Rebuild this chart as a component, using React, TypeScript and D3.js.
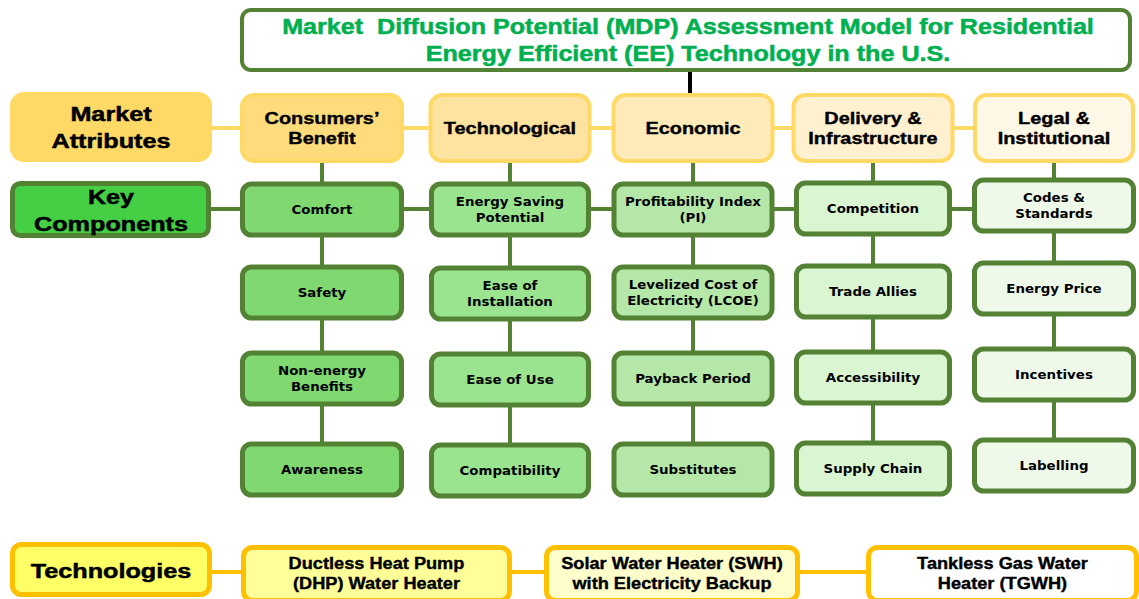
import React from "react";
import * as d3 from "d3";

const titleLines = [
  "Market  Diffusion Potential (MDP) Assessment Model for Residential",
  "Energy Efficient (EE) Technology in the U.S.",
];
const rowLabels = ["Market\nAttributes", "Key\nComponents", "Technologies"];
const categories = [
  "Consumers’\nBenefit",
  "Technological",
  "Economic",
  "Delivery &\nInfrastructure",
  "Legal &\nInstitutional",
];
const consumerComponents = ["Comfort", "Safety", "Non-energy\nBenefits", "Awareness"];
const technologicalComponents = ["Energy Saving\nPotential", "Ease of\nInstallation", "Ease of Use", "Compatibility"];
const economicComponents = ["Profitability Index\n(PI)", "Levelized Cost of\nElectricity (LCOE)", "Payback Period", "Substitutes"];
const deliveryComponents = ["Competition", "Trade Allies", "Accessibility", "Supply Chain"];
const legalComponents = ["Codes &\nStandards", "Energy Price", "Incentives", "Labelling"];
const technologies = [
  "Ductless Heat Pump\n(DHP) Water Heater",
  "Solar Water Heater (SWH)\nwith Electricity Backup",
  "Tankless Gas Water\nHeater (TGWH)",
];

const components = [
  consumerComponents,
  technologicalComponents,
  economicComponents,
  deliveryComponents,
  legalComponents,
];

// styles
const catFills = ["#fedc7c", "#fde39f", "#feebb9", "#fff1cf", "#fff8e6"];
const compFills = ["#80d870", "#9be48f", "#b5e8a8", "#d9f5d2", "#eff9ea"];
const techFills = ["#ffff99", "#ffffcc", "#ffffff"];
const DG = "#548235";
const YEL = "#ffd966";
const GOLD = "#ffc000";

function Label({ x, y, text, size, lh, family, fill = "#000", sx = 1, sw = 0 }: any) {
  const lines = text.split("\n");
  const y0 = y - ((lines.length - 1) * lh) / 2;
  return (
    <text
      x={x}
      textAnchor="middle"
      fontFamily={family}
      fontWeight="bold"
      fontSize={size}
      fill={fill}
      stroke={sw ? fill : "none"}
      strokeWidth={sw}
      transform={`translate(${x},0) scale(${sx},1) translate(${-x},0)`}
    >
      {lines.map((l: string, i: number) => (
        <tspan key={i} x={x} y={y0 + i * lh} dy="0.36em" style={{ whiteSpace: "pre" }}>
          {l}
        </tspan>
      ))}
    </text>
  );
}

function Box({ x0, y0, x1, y1, fill, stroke, sw, r }: any) {
  return (
    <rect
      x={x0 + sw / 2}
      y={y0 + sw / 2}
      width={x1 - x0 - sw}
      height={y1 - y0 - sw}
      rx={r}
      fill={fill}
      stroke={stroke}
      strokeWidth={sw}
    />
  );
}

export default function App() {
  const W = 1139;
  const H = 599;
  const col = d3.scaleOrdinal<string, number>().domain(categories).range([322, 510, 693, 873, 1054]);
  const colShift = d3.scaleOrdinal<string, number>().domain(categories).range([0, 1, 0, -1, -4]);
  const rowY = d3.scaleOrdinal<number, number>().domain([0, 1, 2, 3]).range([209.5, 292.5, 378.5, 469.5]);
  const techX = d3.scaleOrdinal<string, number>().domain(technologies).range([376.5, 672, 1002.5]);
  const catW = [164, 163, 163, 163, 162];
  const compW = [164, 162, 163, 158, 164];
  const compH = 56;
  const ARIAL = "'Liberation Sans', Arial, sans-serif";
  const DEJ = "'DejaVu Sans', Verdana, sans-serif";
  const labelX = 111;

  const catTop = 93;
  const catBot = 163;
  const catY = 128;
  const techY = 572;
  const techW = [271, 256, 273];

  return (
    <svg
      width={W}
      height={H}
      style={{ position: "absolute", left: 0, top: 0, background: "#fff" }}
    >
      {/* title */}
      <line x1={690} x2={690} y1={70} y2={94} stroke="#000" strokeWidth={4} />
      <Box x0={240} y0={8} x1={1132} y1={72} fill="#fff" stroke={DG} sw={4} r={9} />
      <Label x={688} y={40} text={titleLines.join("\n")} size={21.5} lh={27.5} family={ARIAL} fill="#00b050" sx={1.17} sw={0.5} />

      {/* connectors: market attributes row */}
      <line x1={200} x2={1000} y1={catY} y2={catY} stroke={YEL} strokeWidth={4} />
      {/* key components row */}
      <line x1={200} x2={1000} y1={209} y2={209} stroke={DG} strokeWidth={4} />
      {/* vertical green */}
      {categories.map((c) => (
        <line key={c} x1={col(c)} x2={col(c)} y1={catBot - 4} y2={rowY(3) + colShift(c)} stroke={DG} strokeWidth={4} />
      ))}
      {/* technologies connectors */}
      <line x1={200} x2={1000} y1={techY} y2={techY} stroke={GOLD} strokeWidth={4} />

      {/* row labels */}
      <Box x0={10} y0={92} x1={212} y1={162} fill="#ffd966" stroke="#ffd966" sw={4} r={12} />
      <Label x={labelX} y={127} text={rowLabels[0]} size={21} lh={27.5} family={ARIAL} sx={1.2} sw={0.5} />
      <Box x0={10} y0={181} x1={211} y1={238} fill="#44cf44" stroke={DG} sw={5} r={8} />
      <Label x={labelX} y={210} text={rowLabels[1]} size={21} lh={27} family={ARIAL} sx={1.2} sw={0.5} />
      <Box x0={10} y0={542} x1={212} y1={597} fill="#ffff66" stroke={GOLD} sw={5} r={9} />
      <Label x={labelX} y={570} text={rowLabels[2]} size={21} lh={27} family={ARIAL} sx={1.2} sw={0.5} />

      {/* categories */}
      {categories.map((c, i) => (
        <g key={c}>
          <Box x0={col(c) - catW[i] / 2} y0={catTop} x1={col(c) + catW[i] / 2} y1={catBot} fill={catFills[i]} stroke={YEL} sw={4} r={12} />
          <Label x={col(c)} y={catY} text={c} size={17} lh={20.5} family={ARIAL} sx={1.17} sw={0.4} />
        </g>
      ))}

      {/* components */}
      {categories.map((c, i) =>
        components[i].map((t, j) => {
          const cy = rowY(j) + (j === 0 ? Math.min(0, colShift(c)) : colShift(c));
          return (
            <g key={c + t}>
              <Box
                x0={col(c) - compW[i] / 2}
                y0={cy - compH / 2}
                x1={col(c) + compW[i] / 2}
                y1={cy + compH / 2}
                fill={compFills[i]}
                stroke={DG}
                sw={5}
                r={9}
              />
              <Label x={col(c)} y={cy} text={t} size={13} lh={16} family={DEJ} sx={1.03} />
            </g>
          );
        })
      )}

      {/* technologies */}
      {technologies.map((t, i) => (
        <g key={t}>
          <Box
            x0={techX(t) - techW[i] / 2}
            y0={545}
            x1={techX(t) + techW[i] / 2}
            y1={603}
            fill={techFills[i]}
            stroke={GOLD}
            sw={5}
            r={9}
          />
          <Label x={techX(t)} y={573} text={t} size={17} lh={20} family={ARIAL} sx={1.07} sw={0.4} />
        </g>
      ))}
    </svg>
  );
}
